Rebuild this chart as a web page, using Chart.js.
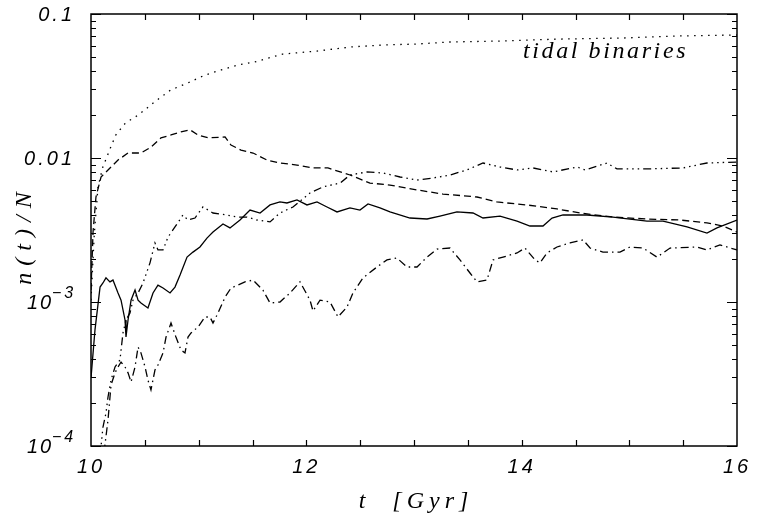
<!DOCTYPE html>
<html><head><meta charset="utf-8">
<script src="https://cdn.jsdelivr.net/npm/chart.js@4.4.1/dist/chart.umd.min.js"></script>
<style>html,body{margin:0;padding:0;background:#fff;}#wrap{width:770px;height:527px;}</style>
</head><body><div id="wrap"><canvas id="c" width="770" height="527"></canvas></div>
<script>
// ---- data (time in Gyr, n(t)/N) ----
const tidalT = [10.0,10.03,10.065,10.11,10.18,10.23,10.32,10.44,10.59,10.74,10.90,11.06,11.21,11.37,11.52,11.78,12.10,12.41,12.71,13.03,13.33,13.80,14.36,14.94,15.47,16.0];
const tidalN = [0.00103,0.00292,0.0063,0.00866,0.01172,0.01445,0.0175,0.0199,0.0245,0.0297,0.0332,0.0377,0.0409,0.0443,0.0464,0.0527,0.0553,0.059,0.0609,0.0619,0.0639,0.0649,0.067,0.0681,0.0704,0.0715];

const dashT = [10.0,10.019,10.046,10.093,10.158,10.251,10.344,10.464,10.557,10.65,10.743,10.836,10.919,10.994,11.087,11.245,11.3,11.393,11.505,11.635,11.755,11.913,12.062,12.201,12.406,12.591,12.777,13.028,13.269,13.585,13.771,14.049,14.328,14.542,14.848,15.164,15.47,15.721,15.87,16.0];
const dashN = [0.00121,0.00306,0.00536,0.00738,0.00826,0.00968,0.01083,0.01083,0.0119,0.0138,0.01445,0.0152,0.0157,0.01445,0.0138,0.014,0.0123,0.01136,0.01083,0.00968,0.00923,0.00893,0.00853,0.00853,0.00762,0.0067,0.00649,0.006,0.00562,0.00536,0.00495,0.00472,0.00443,0.00415,0.00389,0.00377,0.00371,0.00354,0.00337,0.00306];

const solidT = [10.0,10.037,10.084,10.111,10.139,10.176,10.204,10.251,10.279,10.316,10.325,10.344,10.372,10.409,10.437,10.464,10.529,10.576,10.622,10.669,10.734,10.78,10.827,10.892,10.947,11.012,11.077,11.133,11.226,11.291,11.384,11.477,11.57,11.663,11.755,11.82,11.913,12.006,12.099,12.192,12.285,12.405,12.498,12.573,12.684,12.777,12.963,13.121,13.241,13.399,13.548,13.641,13.799,13.957,14.077,14.198,14.282,14.384,14.607,14.848,15.164,15.313,15.536,15.721,15.814,16.0];
const solidN = [0.000297,0.00064,0.00127,0.001355,0.00147,0.00138,0.00142,0.001155,0.00103,0.00075,0.000571,0.00075,0.00103,0.00121,0.00103,0.000984,0.000908,0.001155,0.00131,0.00125,0.001155,0.00127,0.00154,0.00205,0.00222,0.00241,0.00278,0.00306,0.00348,0.00327,0.00371,0.00435,0.00415,0.00472,0.00495,0.00487,0.00511,0.00472,0.00495,0.00457,0.00422,0.0045,0.00435,0.0048,0.0045,0.00422,0.00383,0.00377,0.00395,0.00422,0.00415,0.00383,0.00395,0.00365,0.00337,0.00337,0.00383,0.00402,0.00402,0.00389,0.00365,0.00365,0.00332,0.00301,0.00327,0.00371];

const dddT = [10.084,10.111,10.139,10.158,10.186,10.223,10.269,10.297,10.325,10.362,10.39,10.437,10.483,10.548,10.594,10.622,10.669,10.715,10.78,10.854,10.901,10.966,11.04,11.133,11.263,11.356,11.449,11.542,11.663,11.755,11.876,12.034,12.155,12.313,12.406,12.563,12.712,12.87,13.028,13.176,13.334,13.492,13.641,13.799,13.957,14.105,14.291,14.514,14.588,14.792,14.885,15.164,15.498,15.721,16.0];
const dddN = [0.000085,0.000135,0.000169,0.000219,0.000287,0.000354,0.000396,0.00061,0.00075,0.00084,0.00103,0.001155,0.001355,0.00187,0.00257,0.0023,0.0023,0.00282,0.00332,0.00402,0.00371,0.00383,0.00457,0.00415,0.00402,0.00389,0.00389,0.00371,0.0036,0.00415,0.00457,0.00572,0.0063,0.0067,0.00762,0.008,0.00787,0.00738,0.00703,0.00726,0.00762,0.00826,0.00923,0.00866,0.00826,0.00853,0.008,0.00866,0.00826,0.00923,0.0084,0.0084,0.00853,0.00923,0.00938];

const ddT = [10.121,10.158,10.186,10.223,10.251,10.279,10.316,10.344,10.372,10.409,10.437,10.464,10.502,10.529,10.557,10.594,10.622,10.669,10.697,10.743,10.789,10.836,10.873,10.901,10.929,10.994,11.059,11.105,11.133,11.18,11.245,11.3,11.365,11.43,11.505,11.597,11.663,11.755,11.848,11.941,12.034,12.062,12.127,12.22,12.294,12.378,12.433,12.526,12.656,12.749,12.842,12.935,13.028,13.121,13.214,13.334,13.427,13.52,13.585,13.678,13.734,13.827,13.957,14.031,14.124,14.17,14.235,14.328,14.449,14.57,14.635,14.755,14.913,15.006,15.127,15.257,15.378,15.628,15.721,15.842,16.0];
const ddN = [0.00009,0.000152,0.000265,0.000322,0.000354,0.000383,0.000354,0.000322,0.000278,0.000354,0.000487,0.000443,0.000354,0.000287,0.000245,0.000337,0.000365,0.000443,0.000571,0.000714,0.000571,0.000464,0.000443,0.000571,0.00061,0.00067,0.000787,0.000787,0.000714,0.00084,0.00108,0.00125,0.00131,0.00138,0.00142,0.00121,0.000984,0.001,0.001155,0.00138,0.00103,0.000866,0.00103,0.001,0.000787,0.000923,0.001155,0.00147,0.00175,0.00196,0.00202,0.00175,0.00175,0.00205,0.00233,0.00237,0.00196,0.00159,0.00138,0.00142,0.00196,0.00205,0.00219,0.00237,0.00196,0.00187,0.00219,0.00241,0.00257,0.0027,0.00237,0.00222,0.00222,0.00241,0.00237,0.00205,0.00237,0.00241,0.0023,0.00249,0.0023];

const xTickValues = [10, 12, 14, 16];
const yTickValues = [1e-4, 1e-3, 1e-2, 1e-1];
const yTickLabels = [['10','\u22124'], ['10','\u22123'], ['0.01',''], ['0.1','']];
const xTitle = 't  [Gyr]';
const yTitle = 'n(t)/N';
const curveLabel = 'tidal binaries';

function pts(ts, ns){ return ts.map((t,i)=>({x:t, y:ns[i]})); }
function ds(label, ts, ns, dash, w){
  return {label, data: pts(ts,ns), borderColor:'#000', borderWidth:w, borderDash:dash,
          pointRadius:0, tension:0, fill:false};
}

const decor = {
  id:'decor',
  beforeDraw(chart){ chart.ctx.letterSpacing = '3px'; },
  afterDraw(chart){
    const ctx = chart.ctx, a = chart.chartArea, xs = chart.scales.x, ys = chart.scales.y;
    ctx.save();
    ctx.strokeStyle = '#000'; ctx.fillStyle = '#000';
    ctx.lineWidth = 1.2;
    for (let k = -4; k <= -1; k++){
      for (let m = 1; m <= 9; m++){
        const v = m * Math.pow(10, k);
        if (v > 0.1 * 1.0001) continue;
        const py = Math.round(ys.getPixelForValue(v)) + 0.5;
        const len = (m === 1) ? 10 : 5;
        ctx.beginPath();
        ctx.moveTo(a.left, py); ctx.lineTo(a.left + len, py);
        ctx.moveTo(a.right, py); ctx.lineTo(a.right - len, py);
        ctx.stroke();
      }
    }
    for (let t = 10.5; t < 16; t += 0.5){
      const px = Math.round(xs.getPixelForValue(t)) + 0.5;
      ctx.beginPath();
      ctx.moveTo(px, a.bottom); ctx.lineTo(px, a.bottom - 6);
      ctx.moveTo(px, a.top); ctx.lineTo(px, a.top + 6);
      ctx.stroke();
    }
    ctx.lineWidth = 1.5;
    ctx.strokeRect(a.left, a.top, a.right - a.left, a.bottom - a.top);

    // y tick labels
    ctx.textBaseline = 'middle';
    yTickValues.forEach((v, i) => {
      const py = ys.getPixelForValue(v) + 1;
      const [base, sup] = yTickLabels[i];
      if (!sup){
        ctx.font = 'italic 20px "Liberation Sans", Arial, sans-serif';
        ctx.letterSpacing = '3px';
        ctx.textAlign = 'right';
        ctx.fillText(base, 75, py);
      } else {
        ctx.font = 'italic 20px "Liberation Sans", Arial, sans-serif';
        ctx.letterSpacing = '2px';
        ctx.textAlign = 'left';
        ctx.fillText(base, 27, py);
        ctx.font = 'italic 16px "Liberation Sans", Arial, sans-serif';
        ctx.letterSpacing = '3px';
        ctx.fillText(sup, 52, py - 9);
      }
    });

    // axis titles
    ctx.font = 'italic 24px "Liberation Serif", "Times New Roman", serif';
    ctx.letterSpacing = '5px';
    ctx.textAlign = 'center';
    ctx.textBaseline = 'alphabetic';
    ctx.fillText(xTitle, (a.left + a.right) / 2 + 2, 508);
    ctx.save();
    ctx.translate(31, (a.top + a.bottom) / 2 + 5);
    ctx.rotate(-Math.PI / 2);
    ctx.letterSpacing = '7px';
    ctx.fillText(yTitle, 0, 0);
    ctx.restore();

    // curve annotation
    ctx.font = 'italic 24px "Liberation Serif", "Times New Roman", serif';
    ctx.letterSpacing = '2.6px';
    ctx.textAlign = 'left';
    ctx.fillText(curveLabel, 523, 58);
    ctx.restore();
  }
};

new Chart(document.getElementById('c'), {
  type: 'line',
  data: { datasets: [
    ds('tidal binaries', tidalT, tidalN, [1.5, 5.5], 1.3),
    ds('dashed', dashT, dashN, [7, 4], 1.3),
    ds('solid', solidT, solidN, [], 1.3),
    ds('dash-dot-dot-dot', dddT, dddN, [8, 4, 1.5, 4, 1.5, 4, 1.5, 4], 1.3),
    ds('dash-dot', ddT, ddN, [8, 4, 1.5, 4], 1.3)
  ]},
  options: {
    responsive: false, animation: false,
    devicePixelRatio: 1,
    layout: { padding: { top: 14, right: 33, left: 0, bottom: 0 } },
    plugins: { legend: { display: false }, tooltip: { enabled: false } },
    scales: {
      x: {
        type: 'linear', min: 10, max: 16,
        afterBuildTicks(s){ s.ticks = xTickValues.map(v => ({ value: v })); },
        afterFit(s){ s.height = 81; },
        ticks: { color: '#000', padding: 9, maxRotation: 0,
                 font: { family: '"Liberation Sans", Arial, sans-serif', size: 20, style: 'italic' } },
        grid: { display: false, drawTicks: false }, border: { display: false }
      },
      y: {
        type: 'logarithmic', min: 1e-4, max: 0.1,
        afterBuildTicks(s){ s.ticks = yTickValues.map(v => ({ value: v })); },
        afterFit(s){ s.width = 91; },
        ticks: { display: false },
        grid: { display: false }, border: { display: false }
      }
    }
  },
  plugins: [decor]
});
</script>
</body></html>
